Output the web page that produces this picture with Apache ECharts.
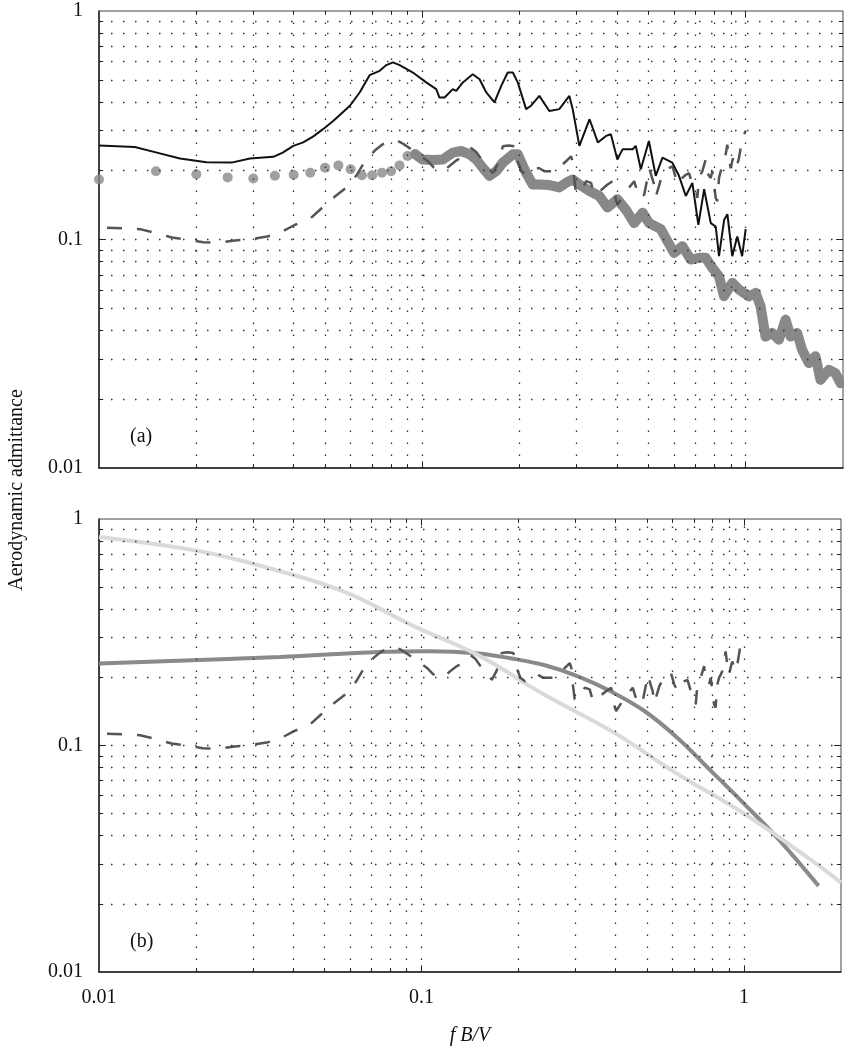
<!DOCTYPE html>
<html>
<head>
<meta charset="utf-8">
<script src="https://cdn.jsdelivr.net/npm/echarts@6/dist/echarts.min.js"></script>
<style>
html, body { margin: 0; padding: 0; background: #fff; }
#main { width: 844px; height: 1047px; }
</style>
</head>
<body>
<div id="main"></div>
<script>
// axis labels and grid positions (log axes)
var xLabels = ['0.01', '0.1', '1'];
var yLabels = ['0.01', '0.1', '1'];
var xGrid = [0.02, 0.03, 0.04, 0.05, 0.06, 0.07, 0.08, 0.09, 0.1, 0.2, 0.3, 0.4, 0.5, 0.6, 0.7, 0.8, 0.9, 1];
var yGrid = [0.02, 0.03, 0.04, 0.05, 0.06, 0.07, 0.08, 0.09, 0.1, 0.2, 0.3, 0.4, 0.5, 0.6, 0.7, 0.8, 0.9];

// panel (a): black measured curve
var blackA = [[0.01, 0.258], [0.0129, 0.254], [0.0151, 0.240], [0.0178, 0.226], [0.0215, 0.218], [0.0257, 0.217],
  [0.0293, 0.226], [0.0346, 0.230], [0.0370, 0.240], [0.0399, 0.257], [0.0428, 0.266], [0.0459, 0.282],
  [0.0493, 0.304], [0.0530, 0.330], [0.0597, 0.385], [0.0640, 0.440], [0.0687, 0.524], [0.0738, 0.547],
  [0.0774, 0.580], [0.0811, 0.596], [0.0851, 0.580], [0.0935, 0.538], [0.1028, 0.487], [0.1104, 0.455],
  [0.1130, 0.418], [0.1172, 0.418], [0.1242, 0.455], [0.1273, 0.447], [0.1334, 0.487], [0.1432, 0.529],
  [0.1503, 0.503], [0.1577, 0.440], [0.1671, 0.398], [0.1754, 0.470], [0.1837, 0.538], [0.1905, 0.538],
  [0.1973, 0.487], [0.2094, 0.372], [0.2169, 0.385], [0.2301, 0.425], [0.2470, 0.365], [0.2652, 0.372],
  [0.2849, 0.425], [0.2917, 0.372], [0.3060, 0.257], [0.329, 0.336], [0.349, 0.266], [0.370, 0.284],
  [0.383, 0.289], [0.401, 0.224], [0.416, 0.248], [0.447, 0.248], [0.457, 0.257], [0.474, 0.203],
  [0.502, 0.270], [0.527, 0.190], [0.553, 0.228], [0.593, 0.217], [0.622, 0.190], [0.653, 0.155],
  [0.684, 0.177], [0.714, 0.116], [0.744, 0.166], [0.780, 0.118], [0.808, 0.114], [0.827, 0.0845],
  [0.858, 0.122], [0.878, 0.129], [0.909, 0.0845], [0.942, 0.103], [0.975, 0.0845], [1.0, 0.111]];

// dashed curve (same in both panels)
var dashed = [[0.01, 0.113], [0.0121, 0.112], [0.0134, 0.111], [0.0149, 0.107], [0.0168, 0.102], [0.0187, 0.100],
  [0.0210, 0.0973], [0.0233, 0.0967], [0.0263, 0.0990], [0.0289, 0.100], [0.0331, 0.103], [0.0363, 0.107],
  [0.0404, 0.116], [0.0449, 0.123], [0.0488, 0.137], [0.0530, 0.152], [0.0583, 0.169], [0.0626, 0.191],
  [0.0664, 0.220], [0.0713, 0.245], [0.0754, 0.261], [0.0793, 0.269], [0.0827, 0.273], [0.0862, 0.265],
  [0.0907, 0.253], [0.0958, 0.239], [0.1041, 0.220], [0.1084, 0.207], [0.1131, 0.199], [0.1180, 0.203],
  [0.1229, 0.213], [0.1276, 0.222], [0.1335, 0.231], [0.1417, 0.251], [0.1471, 0.241], [0.1538, 0.220],
  [0.1652, 0.195], [0.1708, 0.213], [0.1753, 0.239], [0.1774, 0.256], [0.1847, 0.258], [0.1928, 0.256],
  [0.1973, 0.220], [0.2026, 0.199], [0.2094, 0.192], [0.2222, 0.205], [0.2301, 0.205], [0.2385, 0.199],
  [0.2592, 0.199], [0.2673, 0.209], [0.2783, 0.220], [0.2884, 0.231], [0.2916, 0.220], [0.2952, 0.183],
  [0.2987, 0.160], [0.3095, 0.162], [0.3207, 0.180], [0.3324, 0.177], [0.3403, 0.157], [0.3526, 0.162],
  [0.3740, 0.174], [0.3876, 0.180], [0.3971, 0.149], [0.4016, 0.142], [0.4262, 0.162], [0.4521, 0.180],
  [0.4685, 0.152], [0.4855, 0.157], [0.4970, 0.186], [0.5030, 0.205], [0.5212, 0.174], [0.5275, 0.154],
  [0.5466, 0.183], [0.5664, 0.202], [0.5936, 0.209], [0.6081, 0.186], [0.6225, 0.174], [0.6372, 0.186],
  [0.6528, 0.192], [0.6683, 0.195], [0.6841, 0.174], [0.7009, 0.168], [0.7088, 0.152], [0.7175, 0.186],
  [0.7345, 0.199], [0.7524, 0.224], [0.7611, 0.195], [0.7798, 0.186], [0.7887, 0.199], [0.8079, 0.152],
  [0.8171, 0.147], [0.8271, 0.186], [0.8371, 0.199], [0.8467, 0.205], [0.8570, 0.213], [0.8774, 0.260],
  [0.8881, 0.227], [0.8988, 0.205], [0.9090, 0.220], [0.9201, 0.235], [0.9421, 0.213], [0.9535, 0.227],
  [0.9761, 0.278], [1.0, 0.298]];

// panel (a): grey dots at low frequency, merging into a thick band above 0.1
var dotX = [0.010, 0.015, 0.020, 0.025, 0.030, 0.035, 0.040, 0.045, 0.050, 0.055, 0.060, 0.065, 0.070, 0.075, 0.080, 0.085, 0.090, 0.095];
var dotY = [0.183, 0.199, 0.193, 0.187, 0.185, 0.190, 0.192, 0.196, 0.206, 0.211, 0.203, 0.191, 0.191, 0.196, 0.199, 0.211, 0.232, 0.236];
var bandA = [[0.095, 0.236], [0.1, 0.224], [0.1079, 0.223], [0.1158, 0.224], [0.1243, 0.240], [0.1319, 0.244],
  [0.1400, 0.236], [0.1468, 0.224], [0.1538, 0.206], [0.1613, 0.190], [0.1692, 0.199], [0.1774, 0.217],
  [0.1905, 0.236], [0.1973, 0.236], [0.2094, 0.196], [0.2194, 0.174], [0.2301, 0.174], [0.2470, 0.173],
  [0.2652, 0.169], [0.2783, 0.177], [0.2917, 0.183], [0.3060, 0.174], [0.329, 0.163], [0.3526, 0.155],
  [0.374, 0.138], [0.401, 0.150], [0.4262, 0.135], [0.4521, 0.118], [0.480, 0.131], [0.503, 0.118],
  [0.5466, 0.111], [0.5728, 0.0983], [0.6006, 0.0874], [0.6372, 0.0935], [0.6764, 0.0817], [0.7175, 0.0831],
  [0.7524, 0.0831], [0.7887, 0.0751], [0.8271, 0.0690], [0.857, 0.0565], [0.909, 0.0646], [0.9535, 0.0604],
  [1.024, 0.0564], [1.074, 0.0584], [1.112, 0.0510], [1.152, 0.0376], [1.208, 0.0390], [1.267, 0.0364],
  [1.329, 0.0446], [1.377, 0.0376], [1.443, 0.0390], [1.495, 0.0329], [1.568, 0.0288], [1.644, 0.0308],
  [1.704, 0.0243], [1.807, 0.0269], [1.896, 0.0260], [1.965, 0.0235]];

// panel (b): two fitted functions
var midB = [[0.01, 0.230], [0.0363, 0.246], [0.0738, 0.259], [0.1053, 0.261], [0.1503, 0.255], [0.1905, 0.242],
  [0.2414, 0.226], [0.306, 0.202], [0.3876, 0.173], [0.4914, 0.142], [0.6225, 0.108], [0.7887, 0.0775],
  [1.0, 0.0554], [1.267, 0.0392], [1.704, 0.0240]];
var lightB = [[0.01, 0.832], [0.0205, 0.720], [0.0363, 0.589], [0.0583, 0.474], [0.0935, 0.339], [0.1503, 0.250],
  [0.2414, 0.167], [0.3876, 0.116], [0.6225, 0.0749], [1.0, 0.0501], [1.606, 0.0314], [2.0, 0.0248]];

var serif = '"Liberation Serif", "DejaVu Serif", serif';
var X_MIN = 0.01, X_MAX = 2, Y_MIN = 0.01, Y_MAX = 1;

function labelFmt(labels) {
  return function (v) {
    for (var i = 0; i < labels.length; i++) {
      if (Math.abs(Math.log10(v / Number(labels[i]))) < 1e-6) return labels[i];
    }
    return '';
  };
}

function xAxisOf(gi, show) {
  return {
    type: 'log', logBase: 10, gridIndex: gi, min: X_MIN, max: X_MAX,
    axisLine: { show: true, onZero: false, lineStyle: { color: '#222', width: 1.5 } },
    axisTick: { show: false }, splitLine: { show: false },
    axisLabel: { show: show, formatter: labelFmt(xLabels), margin: 16, color: '#111', fontSize: 20, fontFamily: serif },
    name: show ? 'f B/V' : '', nameLocation: 'middle', nameGap: 54,
    nameTextStyle: { fontStyle: 'italic', fontFamily: serif, fontSize: 20, color: '#111' }
  };
}
function yAxisOf(gi) {
  return {
    type: 'log', logBase: 10, gridIndex: gi, min: Y_MIN, max: Y_MAX,
    axisLine: { show: true, onZero: false, lineStyle: { color: '#222', width: 1.5 } },
    axisTick: { show: false }, splitLine: { show: false },
    axisLabel: { formatter: labelFmt(yLabels), margin: 16, color: '#111', fontSize: 20, fontFamily: serif }
  };
}

function gridLines() {
  return xGrid.map(function (v) { return { xAxis: v }; })
    .concat(yGrid.map(function (v) { return { yAxis: v }; }));
}
function tickMarks() {
  var out = [];
  xGrid.forEach(function (v) {
    var k = (v === 0.1 || v === 1) ? 1.07 : 1.04;
    out.push([{ coord: [v, Y_MIN] }, { coord: [v, Y_MIN * k] }]);
    out.push([{ coord: [v, Y_MAX] }, { coord: [v, Y_MAX / k] }]);
  });
  yGrid.forEach(function (v) {
    var k = v === 0.1 ? 1.05 : 1.03;
    out.push([{ coord: [X_MIN, v] }, { coord: [X_MIN * k, v] }]);
    out.push([{ coord: [X_MAX, v] }, { coord: [X_MAX / k, v] }]);
  });
  return out;
}
function frameSeries(gi) {
  return [{
    type: 'line', xAxisIndex: gi, yAxisIndex: gi, data: [], z: 1,
    markLine: { silent: true, symbol: ['none', 'none'], label: { show: false },
      lineStyle: { color: '#333', width: 1.3, type: [1.5, 10.5] }, data: gridLines() }
  }, {
    type: 'line', xAxisIndex: gi, yAxisIndex: gi, data: [], z: 1,
    markLine: { silent: true, symbol: ['none', 'none'], label: { show: false },
      lineStyle: { color: '#222', width: 1, type: 'solid' }, data: tickMarks() }
  }];
}

var dashStyle = { color: '#555', width: 2.5, type: [15, 15], dashOffset: 22 };

var option = {
  animation: false,
  backgroundColor: '#fff',
  grid: [
    { left: 99, top: 11, width: 744, height: 457, show: true, borderColor: '#444', borderWidth: 1, backgroundColor: 'transparent' },
    { left: 99, top: 519, width: 744, height: 458, show: true, borderColor: '#444', borderWidth: 1, backgroundColor: 'transparent' }
  ],
  xAxis: [xAxisOf(0, false), xAxisOf(1, true)],
  yAxis: [yAxisOf(0), yAxisOf(1)],
  graphic: [
    { type: 'text', x: 17, y: 490, rotation: Math.PI / 2,
      style: { text: 'Aerodynamic admittance', font: '20px ' + serif, fill: '#111', textAlign: 'center', textVerticalAlign: 'middle' } },
    { type: 'text', x: 130, y: 437,
      style: { text: '(a)', font: '20px ' + serif, fill: '#111', textAlign: 'left', textVerticalAlign: 'middle' } },
    { type: 'text', x: 130, y: 942,
      style: { text: '(b)', font: '20px ' + serif, fill: '#111', textAlign: 'left', textVerticalAlign: 'middle' } }
  ],
  series: frameSeries(0).concat(frameSeries(1)).concat([
    {
      type: 'scatter', xAxisIndex: 0, yAxisIndex: 0, z: 3, symbolSize: 10,
      itemStyle: { color: '#888' },
      data: dotX.map(function (x, i) { return [x, dotY[i]]; })
    },
    {
      type: 'line', xAxisIndex: 0, yAxisIndex: 0, z: 3, symbol: 'none', data: bandA,
      lineStyle: { color: '#888', width: 10, cap: 'round', join: 'round' }
    },
    {
      type: 'line', xAxisIndex: 0, yAxisIndex: 0, z: 4, symbol: 'none', data: dashed,
      lineStyle: dashStyle
    },
    {
      type: 'line', xAxisIndex: 0, yAxisIndex: 0, z: 5, symbol: 'none', data: blackA,
      lineStyle: { color: '#111', width: 2 }
    },
    {
      type: 'line', xAxisIndex: 1, yAxisIndex: 1, z: 3, symbol: 'none', smooth: 0.4, data: midB,
      lineStyle: { color: '#8a8a8a', width: 4 }
    },
    {
      type: 'line', xAxisIndex: 1, yAxisIndex: 1, z: 3, symbol: 'none', smooth: 0.4, data: lightB,
      lineStyle: { color: '#dadada', width: 4 }
    },
    {
      type: 'line', xAxisIndex: 1, yAxisIndex: 1, z: 4, symbol: 'none', data: dashed,
      lineStyle: dashStyle
    }
  ])
};

var chart = echarts.init(document.getElementById('main'));
chart.setOption(option);
</script>
</body>
</html>
